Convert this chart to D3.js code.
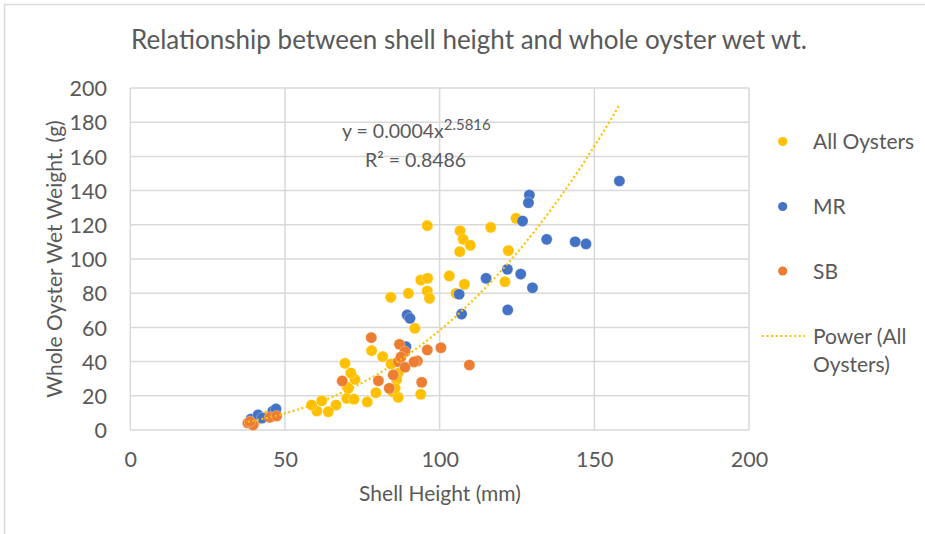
<!DOCTYPE html>
<html><head><meta charset="utf-8">
<script src="https://cdn.jsdelivr.net/npm/d3@7"></script>
<style>body{margin:0;background:#fff}svg{display:block}text{font-family:Lato,"Open Sans",sans-serif;fill:#595959}</style>
</head><body><svg id="c" width="925" height="534"></svg>
<script>
const xTicks=[0,50,100,150,200];
const yTicks=[0,20,40,60,80,100,120,140,160,180,200];
const allX=[84.2,89.9,78.0,69.4,81.6,72.6,70.0,70.0,72.3,76.6,79.4,84.8,86.6,66.5,64.0,60.3,58.6,61.9,96.0,106.6,116.5,107.6,109.9,106.5,122.2,93.9,96.1,96.0,96.7,103.1,108.0,105.3,121.1,124.7,92.0,84.3,86.6,86.1,70.5,85.6,93.9,71.3,41.0,44.0,47.0,39.0];
const allY=[77.6,79.9,46.4,39.0,42.9,29.6,25.3,18.5,18.0,16.4,21.8,22.4,19.1,14.6,10.7,11.1,14.6,17.1,119.5,116.5,118.5,111.5,108.0,104.3,104.9,87.7,88.7,81.3,77.0,90.1,85.2,79.9,86.7,123.8,59.5,38.6,33.2,29.6,24.4,24.4,20.9,33.3,6.0,8.0,10.0,5.0];
const mrX=[39.0,41.3,42.6,46.1,47.1,89.5,90.4,89.1,106.3,107.1,115.0,121.9,126.2,130.0,122.0,126.8,129.0,128.7,134.6,143.8,147.3,158.1];
const mrY=[6.4,8.8,7.0,11.1,12.3,67.3,65.3,48.7,79.4,67.8,88.7,94.0,91.2,83.2,70.2,122.2,137.4,132.9,111.5,110.1,108.8,145.6];
const sbX=[38.0,39.7,38.7,45.1,47.3,77.9,68.5,80.2,83.7,85.0,87.0,88.8,86.6,88.8,96.0,100.4,109.6,92.8,94.2,91.7,87.5];
const sbY=[4.1,2.9,4.9,7.4,8.2,54.0,28.7,28.8,24.4,32.2,50.1,45.8,39.9,36.7,46.8,48.1,38.0,40.4,27.9,39.8,42.7];
const fitA=0.0004, fitB=2.5816;
const legendLabels=["All Oysters","MR","SB"];
const colors={all:"#FFC000",mr:"#4472C4",sb:"#ED7D31"};

const svg=d3.select("#c");
svg.append("rect").attr("x",4.5).attr("y",4.5).attr("width",930).attr("height",540).attr("fill","#fff").attr("stroke","#d9d9d9").attr("stroke-width",1.5);
const L=130.3,R=749,T=88,B=430;
const x=d3.scaleLinear().domain([0,200]).range([L,R]);
const y=d3.scaleLinear().domain([0,200]).range([B,T]);

const g=svg.append("g");
g.selectAll(".hg").data(yTicks).join("line").attr("x1",L).attr("x2",R).attr("y1",d=>y(d)).attr("y2",d=>y(d)).attr("stroke","#d9d9d9").attr("stroke-width",1.5);
g.selectAll(".vg").data(xTicks).join("line").attr("y1",T).attr("y2",B).attr("x1",d=>x(d)).attr("x2",d=>x(d)).attr("stroke","#d9d9d9").attr("stroke-width",1.5);

const xa=d3.axisBottom(x).tickValues(xTicks).tickSize(0).tickPadding(0);
svg.append("g").attr("transform",`translate(0,${B})`).call(xa).call(s=>{s.select(".domain").remove();s.selectAll("text").attr("dy",null).attr("y",37).style("font-size","21.5px").attr("fill","#595959").style("font-family","Lato");});
const ya=d3.axisLeft(y).tickValues(yTicks).tickSize(0).tickPadding(0);
svg.append("g").attr("transform",`translate(107,0)`).call(ya).call(s=>{s.select(".domain").remove();s.selectAll("text").attr("dy","0.36em").style("font-size","21.5px").attr("fill","#595959").style("font-family","Lato");});

svg.append("text").attr("x",469).attr("y",49).attr("text-anchor","middle").style("font-size","26px").text("Relationship between shell height and whole oyster wet wt.");
svg.append("text").attr("x",440).attr("y",501).attr("text-anchor","middle").style("font-size","21px").text("Shell Height (mm)");
svg.append("text").attr("transform","translate(62,259) rotate(-90)").attr("text-anchor","middle").style("font-size","21px").text("Whole Oyster Wet Weight. (g)");

function pts(X,Y,c){g.append("g").selectAll("circle").data(X.map((v,i)=>[v,Y[i]])).join("circle").attr("cx",d=>x(d[0])).attr("cy",d=>y(d[1])).attr("r",5.6).attr("fill",c).attr("stroke","#fff").attr("stroke-opacity",0.5).attr("stroke-width",0.6);}
pts(allX,allY,colors.all);
pts(mrX,mrY,colors.mr);
pts(sbX,sbY,colors.sb);

const all=[...allX,...mrX,...sbX];
const x0=d3.min(all),x1=d3.max(all);
const fit=d3.range(0,101).map(i=>{const xv=x0+(x1-x0)*i/100;return [xv,fitA*Math.pow(xv,fitB)];});
g.append("path").datum(fit).attr("d",d3.line().x(d=>x(d[0])).y(d=>y(d[1]))).attr("fill","none").attr("stroke",colors.all).attr("stroke-width",2.2).attr("stroke-dasharray","2,2.6");

const eq=svg.append("text").attr("x",342).attr("y",138).style("font-size","19.5px");
eq.append("tspan").text("y = 0.0004x");
eq.append("tspan").attr("dy",-8).style("font-size","15px").text("2.5816");
svg.append("text").attr("x",365).attr("y",167).style("font-size","19.5px").text("R² = 0.8486");

const ly=[141.5,206.5,271];
const lc=[colors.all,colors.mr,colors.sb];
legendLabels.forEach((t,i)=>{
  svg.append("circle").attr("cx",782.7).attr("cy",ly[i]).attr("r",4.6).attr("fill",lc[i]);
  svg.append("text").attr("x",813).attr("y",ly[i]).attr("dy","0.36em").style("font-size","21px").text(t);
});
svg.append("line").attr("x1",762).attr("x2",805).attr("y1",336).attr("y2",336).attr("stroke",colors.all).attr("stroke-width",2.2).attr("stroke-dasharray","2,2.6");
svg.append("text").attr("x",813).attr("y",336).attr("dy","0.36em").style("font-size","21px").text("Power (All");
svg.append("text").attr("x",813).attr("y",364).attr("dy","0.36em").style("font-size","21px").text("Oysters)");
</script></body></html>
